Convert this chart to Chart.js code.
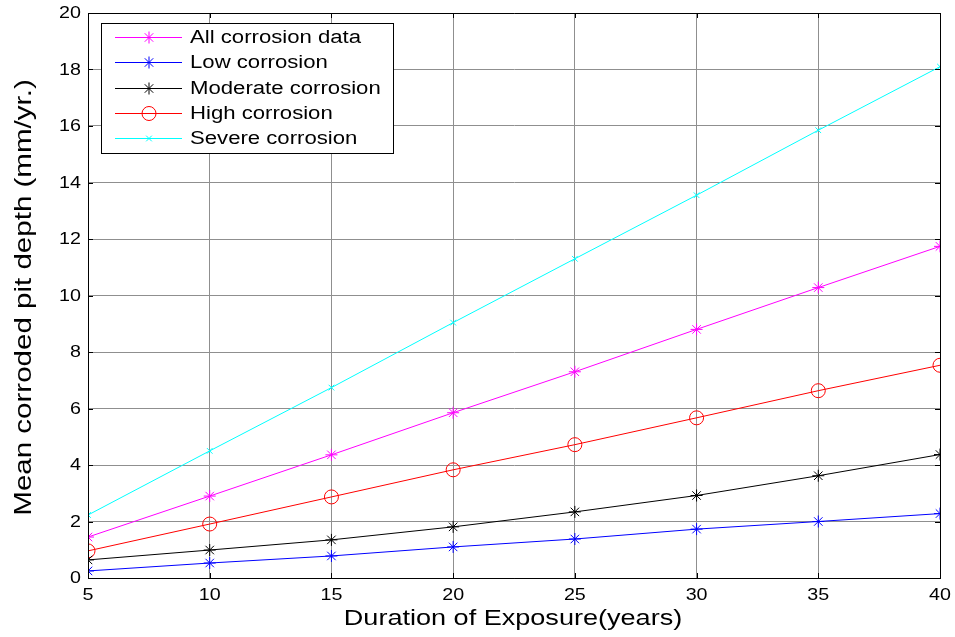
<!DOCTYPE html>
<html>
<head>
<meta charset="utf-8">
<script src="https://cdn.jsdelivr.net/npm/chart.js@4"></script>
<style>
  html, body { margin: 0; padding: 0; background: #fff; }
  #wrap { width: 955px; height: 637px; }
</style>
</head>
<body>
<div id="wrap"><canvas id="chart1" width="955" height="637"></canvas></div>
<script>
// years of exposure and mean pit depth per corrosion class
const years = [5, 10, 15, 20, 25, 30, 35, 40];
const allData = [1.45, 2.90, 4.36, 5.85, 7.30, 8.80, 10.28, 11.74];
const lowData = [0.25, 0.53, 0.78, 1.10, 1.38, 1.73, 2.00, 2.28];
const moderateData = [0.64, 0.99, 1.35, 1.81, 2.34, 2.92, 3.62, 4.37];
const highData = [0.96, 1.91, 2.87, 3.83, 4.72, 5.67, 6.63, 7.53];
const severeData = [2.23, 4.50, 6.74, 9.04, 11.30, 13.55, 15.85, 18.10];
const seriesNames = ['All corrosion data', 'Low corrosion', 'Moderate corrosion', 'High corrosion', 'Severe corrosion'];
const xTicks = [5, 10, 15, 20, 25, 30, 35, 40];
const yTicks = [0, 2, 4, 6, 8, 10, 12, 14, 16, 18, 20];
const xTitle = 'Duration of Exposure(years)';
const yTitle = 'Mean corroded pit depth (mm/yr.)';

const FONT = '"Liberation Sans", Arial, sans-serif';
const STRETCH = 1.23; // glyphs are drawn a little wide

function toPoints(vals) {
  return vals.map((v, i) => ({ x: years[i], y: v }));
}

function makeSet(label, vals, color, style, radius) {
  return {
    label: label,
    data: toPoints(vals),
    borderColor: color,
    backgroundColor: 'rgba(0,0,0,0)',
    borderWidth: 1,
    pointStyle: style,
    pointRadius: radius,
    pointBorderColor: color,
    pointBorderWidth: 1,
    pointBackgroundColor: 'rgba(0,0,0,0)',
    fill: false,
    tension: 0
  };
}

// text with a horizontal stretch, optionally rotated
function wideText(ctx, text, x, y, size, align, rot) {
  ctx.save();
  ctx.translate(x, y);
  if (rot) ctx.rotate(rot);
  ctx.scale(STRETCH, 1);
  ctx.font = size + 'px ' + FONT;
  ctx.textAlign = align;
  ctx.textBaseline = 'middle';
  ctx.fillStyle = '#000';
  ctx.fillText(text, 0, 0);
  ctx.restore();
}

// box, inward ticks, tick labels and axis titles
const axesDecor = {
  id: 'axesDecor',
  afterDraw(chart) {
    const { ctx, chartArea: a, scales } = chart;
    const len = 5;
    ctx.save();
    ctx.strokeStyle = '#000';
    ctx.lineWidth = 1;
    ctx.beginPath();
    ctx.rect(a.left + 0.5, a.top + 0.5, a.right - a.left, a.bottom - a.top);
    ctx.stroke();
    ctx.beginPath();
    xTicks.forEach(t => {
      const px = Math.round(scales.x.getPixelForValue(t)) + 0.5;
      ctx.moveTo(px, a.bottom); ctx.lineTo(px, a.bottom - len);
      ctx.moveTo(px, a.top); ctx.lineTo(px, a.top + len);
    });
    yTicks.forEach(t => {
      const py = Math.round(scales.y.getPixelForValue(t)) + 0.5;
      ctx.moveTo(a.left, py); ctx.lineTo(a.left + len, py);
      ctx.moveTo(a.right, py); ctx.lineTo(a.right - len, py);
    });
    ctx.stroke();
    ctx.restore();

    xTicks.forEach(t => {
      wideText(ctx, String(t), scales.x.getPixelForValue(t), a.bottom + 18, 16, 'center', 0);
    });
    yTicks.forEach(t => {
      wideText(ctx, String(t), a.left - 7, scales.y.getPixelForValue(t) + 1, 16, 'right', 0);
    });
    wideText(ctx, xTitle, (a.left + a.right) / 2 - 1, a.bottom + 41, 22, 'center', 0);
    wideText(ctx, yTitle, 24, (a.top + a.bottom) / 2 + 2, 24, 'center', -Math.PI / 2);
  }
};

// legend box drawn inside the plot, upper left
const innerLegend = {
  id: 'innerLegend',
  afterDraw(chart) {
    const { ctx } = chart;
    const x0 = 101, y0 = 23, w = 292, h = 130;
    const rowH = 25.3;
    ctx.save();
    ctx.fillStyle = '#fff';
    ctx.fillRect(x0, y0, w, h);
    ctx.strokeStyle = '#000';
    ctx.lineWidth = 1;
    ctx.strokeRect(x0 + 0.5, y0 + 0.5, w, h);
    chart.data.datasets.forEach((ds, i) => {
      const cy = Math.round(y0 + 14 + i * rowH);
      ctx.strokeStyle = ds.borderColor;
      ctx.fillStyle = 'rgba(0,0,0,0)';
      ctx.lineWidth = 1;
      ctx.beginPath();
      ctx.moveTo(115, cy + 0.5);
      ctx.lineTo(182, cy + 0.5);
      ctx.stroke();
      Chart.helpers.drawPoint(ctx, {
        pointStyle: ds.pointStyle,
        radius: ds.pointRadius,
        rotation: 0,
        borderWidth: 1
      }, 149, cy + 0.5);
      wideText(ctx, ds.label, 190, cy + 1, 18, 'left', 0);
    });
    ctx.restore();
  }
};

const ctx = document.getElementById('chart1').getContext('2d');
new Chart(ctx, {
  type: 'line',
  data: {
    datasets: [
      makeSet(seriesNames[0], allData, '#ff00ff', 'star', 6),
      makeSet(seriesNames[1], lowData, '#0000ff', 'star', 6),
      makeSet(seriesNames[2], moderateData, '#000000', 'star', 6),
      makeSet(seriesNames[3], highData, '#ff0000', 'circle', 7),
      makeSet(seriesNames[4], severeData, '#00ffff', 'crossRot', 4)
    ]
  },
  options: {
    responsive: false,
    animation: false,
    layout: { padding: { top: 13, right: 15, left: 0, bottom: 0 } },
    plugins: {
      legend: { display: false },
      tooltip: { enabled: false }
    },
    scales: {
      x: {
        type: 'linear',
        min: 5,
        max: 40,
        afterBuildTicks: s => { s.ticks = xTicks.map(v => ({ value: v })); },
        afterFit: s => { s.height = 59; },
        grid: { color: '#8f8f8f', drawTicks: false },
        border: { color: '#000' },
        ticks: { display: false }
      },
      y: {
        min: 0,
        max: 20,
        afterBuildTicks: s => { s.ticks = yTicks.map(v => ({ value: v })); },
        afterFit: s => { s.width = 88; },
        grid: { color: '#8f8f8f', drawTicks: false },
        border: { color: '#000' },
        ticks: { display: false }
      }
    }
  },
  plugins: [axesDecor, innerLegend]
});
</script>
</body>
</html>
